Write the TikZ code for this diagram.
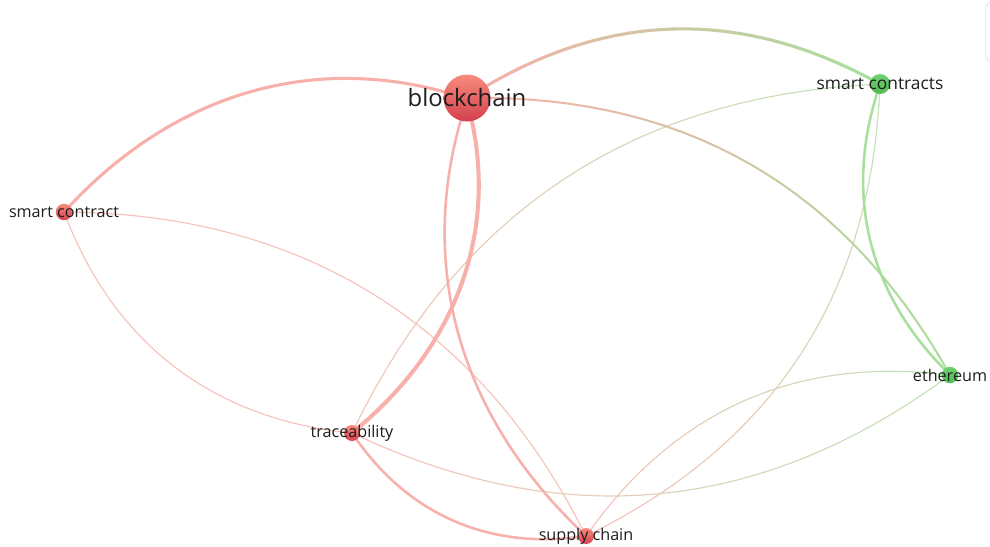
\documentclass[tikz,border=0pt]{standalone}
\usepackage{fontspec}
\setmainfont{Open Sans}
\usetikzlibrary{calc}
\definecolor{ered}{RGB}{247,176,170}
\definecolor{eredlt}{RGB}{248,194,188}
\definecolor{egreen}{RGB}{166,224,156}
\definecolor{egreenlt}{RGB}{192,228,182}
\definecolor{nred}{RGB}{212,64,78}
\definecolor{nredtop}{RGB}{246,140,124}
\definecolor{ngreen}{RGB}{80,188,80}
\definecolor{ngreentop}{RGB}{112,208,112}
\definecolor{ltext}{RGB}{30,30,30}
\pgfdeclarelayer{back}
\pgfdeclarelayer{bg}
\pgfsetlayers{back,bg,main}
% uniform edge: from, to, angle, width, colour
\newcommand{\uedge}[5]{%
  \coordinate (ctl) at ($(#1)!0.5!(#2)!0.6!#3:(#2)$);
  \draw[line width=#4, color=#5, line cap=round]
    (#1) .. controls ($(#1)!2/3!(ctl)$) and ($(#2)!2/3!(ctl)$) .. (#2);
}
% gradient edge: from, to, angle, width, colour at from, colour at to
\newcommand{\gedge}[6]{%
  \coordinate (ctl) at ($(#1)!0.5!(#2)!0.6!#3:(#2)$);
  \foreach \i in {1,...,30}{%
    \pgfmathsetmacro\ta{(\i-1)/30}%
    \pgfmathsetmacro\tb{\i/30}%
    \pgfmathsetmacro\pc{100-100*(\i-0.5)/30}%
    \draw[line width=#4, line cap=round, color=#5!\pc!#6]
      ($($(#1)!\ta!(ctl)$)!\ta!($(ctl)!\ta!(#2)$)$) --
      ($($(#1)!\tb!(ctl)$)!\tb!($(ctl)!\tb!(#2)$)$);
  }%
}
\tikzset{
  rednode/.style={circle, inner sep=0pt, top color=nredtop, bottom color=nred, draw=none},
  greennode/.style={circle, inner sep=0pt, top color=ngreentop, bottom color=ngreen, draw=none},
  lbl/.style={text=ltext, inner sep=0pt, font=\fontsize{9.2pt}{11pt}\selectfont},
}
\begin{document}
\begin{tikzpicture}[x=0.02cm, y=-0.02cm]
\useasboundingbox (0,0) rectangle (990,547);
\begin{pgfonlayer}{back}
\fill[white] (0,0) rectangle (990,547);
\draw[black!10, line width=0.5pt, rounded corners=3pt] (995,2) -- (986,2) -- (986,62) -- (995,62);
\end{pgfonlayer}

% nodes
\node[rednode, minimum size=0.94cm] (bc) at (467,98) {};
\node[greennode, minimum size=0.40cm] (scs) at (880,84) {};
\node[rednode, minimum size=0.33cm] (sc) at (64,212) {};
\node[greennode, minimum size=0.33cm] (eth) at (950,375) {};
\node[rednode, minimum size=0.32cm] (tr) at (352,433) {};
\node[rednode, minimum size=0.32cm] (sup) at (586,536) {};

% edges
\begin{pgfonlayer}{bg}
\uedge{sc}{tr}{-90}{0.65pt}{eredlt}
\uedge{sc}{sup}{90}{0.65pt}{eredlt}
\gedge{tr}{scs}{90}{0.65pt}{eredlt}{egreenlt}
\gedge{tr}{eth}{-90}{0.65pt}{eredlt}{egreenlt}
\gedge{sup}{scs}{-90}{0.65pt}{eredlt}{egreenlt}
\gedge{sup}{eth}{90}{0.65pt}{eredlt}{egreenlt}
\gedge{bc}{eth}{90}{1.15pt}{ered}{egreen}
\uedge{bc}{sup}{-90}{1.45pt}{ered}
\uedge{tr}{sup}{-90}{1.45pt}{ered}
\uedge{scs}{eth}{-90}{1.45pt}{egreen}
\uedge{sc}{bc}{90}{1.75pt}{ered}
\gedge{bc}{scs}{90}{1.75pt}{ered}{egreen}
\uedge{bc}{tr}{90}{2.3pt}{ered}
\end{pgfonlayer}

% labels
\node[lbl, font=\fontsize{13.6pt}{16pt}\selectfont] (bcl) at (bc) {blockchain};
\node[lbl, font=\fontsize{9.9pt}{12pt}\selectfont] (scsl) at (scs) {smart contracts};
\node[lbl] (scl) at (sc) {smart contract};
\node[lbl] (ethl) at (eth) {ethereum};
\node[lbl] (trl) at (tr) {traceability};
\node[lbl] (supl) at (sup) {supply chain};
\end{tikzpicture}
\end{document}
